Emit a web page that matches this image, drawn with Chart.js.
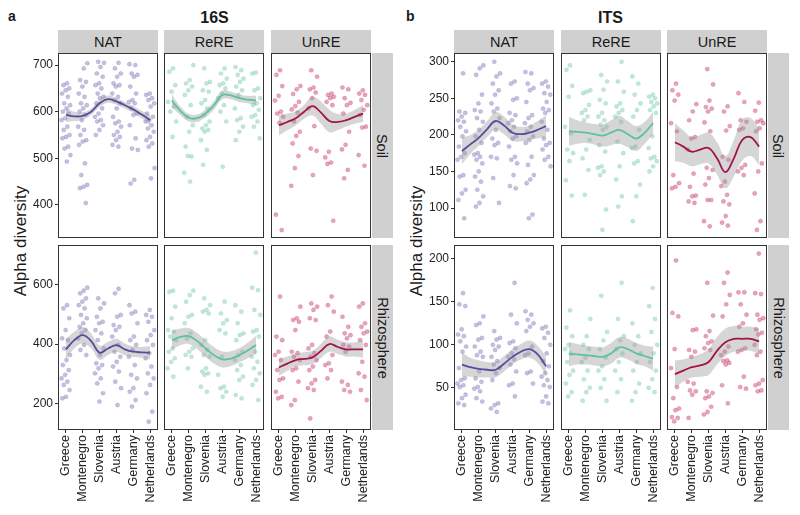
<!DOCTYPE html>
<html>
<head>
<meta charset="utf-8">
<script src="https://cdn.jsdelivr.net/npm/chart.js@4.4.0/dist/chart.umd.min.js"></script>
<style>
  body { margin: 0; background: #fff; width: 800px; height: 515px; position: relative; overflow: hidden;
         font-family: "Liberation Sans", Arial, sans-serif; color: #1a1a1a; }
  canvas { position: absolute; }
  .txt { position: absolute; white-space: nowrap; }
  .strip { position: absolute; background: #d0d0d0; display: flex; align-items: center; justify-content: center;
           font-size: 14.5px; color: #1a1a1a; }
  .vstrip span { transform: rotate(90deg); display: inline-block; }
  .ytitle { position: absolute; font-size: 17px; transform: translate(-50%, -50%) rotate(-90deg); white-space: nowrap; }
</style>
</head>
<body>
<script>
// categories
const countries = ['Greece', 'Montenegro', 'Slovenia', 'Austria', 'Germany', 'Netherlands'];
const fitX = [0, 0.5, 1, 1.5, 2, 2.5, 3, 3.5, 4, 4.5, 5];

// y ticks per row
const ticks16S_soil = [400, 500, 600, 700];
const ticks16S_rhizo = [200, 400, 600];
const ticksITS_soil = [100, 150, 200, 250, 300];
const ticksITS_rhizo = [50, 100, 150, 200];

// 16S, Soil
const pts16S_soil_NAT = [
  [661,657,650,646,639,632,618,614,607,600,596,586,582,568,561,550,546,543,525,521,507,493],
  [704,693,668,664,654,639,632,618,614,607,600,593,582,568,561,550,539,536,529,489,464,443,439,436,404],
  [707,705,696,682,675,661,657,650,639,632,629,618,607,596,589,582,579,571,561,550],
  [705,693,682,675,661,657,654,639,632,625,618,607,589,579,575,568,557,550,546,539,529,525],
  [702,700,682,679,675,654,639,625,621,618,607,596,593,571,543,521,518,454,446],
  [639,636,629,625,618,611,596,589,582,579,571,564,557,546,539,532,525,479,457]
];
const pts16S_soil_ReRE = [
  [693,686,657,643,621,611,600,579,546],
  [700,668,661,654,646,636,614,589,571,557,525,504,505,469,450],
  [693,664,661,646,643,625,618,607,593,579,571,564,561,557,539,518,486],
  [693,682,671,661,657,650,639,629,614,600,579,482],
  [696,689,679,671,664,654,646,636,607,586,582,568,557,539],
  [684,682,650,646,629,618,614,604,593,589,579,568,543]
];
const pts16S_soil_UnRE = [
  [689,679,655,634,624,600,596,589,576,379,346],
  [655,648,638,621,612,605,598,579,557,548,532,505,479,441],
  [689,675,652,648,641,629,607,569,521,516,464],
  [639,636,632,629,621,614,514,502,491,488,366],
  [652,648,629,619,614,596,557,529,519,475,457],
  [646,639,636,625,614,604,593,568,566,507,484]
];

// 16S, Rhizosphere
const pts16S_rhizo_NAT = [
  [531,520,487,447,419,413,385,363,346,329,312,296,284,273,262,245,222,217],
  [590,580,571,554,543,531,520,498,487,470,458,447,436,419,397,380,363],
  [554,537,520,492,475,470,447,436,413,385,363,335,329,318,301,284,267,234,206],
  [586,571,498,492,464,458,447,425,397,374,357,340,324,307,273,251,194],
  [531,509,503,470,425,413,397,380,357,329,296,284,251,239,211,189],
  [515,498,492,475,447,430,413,397,369,352,324,301,284,262,234,172,138]
];
const pts16S_rhizo_ReRE = [
  [580,576,526,487,447,442,425,413,385,374,352,340,318,290],
  [580,565,543,498,492,470,436,419,385,374,363,357,318],
  [554,531,515,509,503,413,397,380,363,357,318,307,301,296,256,239],
  [543,503,481,470,447,436,357,296,256,251,239,222],
  [531,509,470,436,430,413,374,363,346,329,312,290,279,228,217],
  [708,590,582,515,498,447,442,425,374,357,340,318,301,279,262,211]
];
const pts16S_rhizo_UnRE = [
  [560,425,413,374,363,346,312,284,279,239,222,217],
  [526,487,481,475,447,374,369,357,346,318,312,273,211,194],
  [537,526,515,487,481,397,385,369,357,346,324,312,279,267,251,245,149],
  [560,531,509,442,425,363,335,329,312,284],
  [492,458,436,430,419,397,391,374,273,262,245,239],
  [537,526,470,458,442,436,413,397,340,301,290,245,211]
];

// ITS, Soil
const ptsITS_soil_NAT = [
  [284,232,230,225,220,218,211,205,198,184,175,170,166,145,143,125,120,111,86],
  [295,291,282,255,243,234,232,223,218,207,198,189,175,173,170,166,161,150,143,136,125,116,107,102],
  [300,284,280,270,261,255,243,236,232,223,207,195,189,186,170,168,141,107],
  [273,270,250,248,230,227,220,216,211,205,198,195,184,170,166,161,145,130,127],
  [286,284,270,264,261,245,227,223,216,211,205,198,193,189,170,159,145,139,134,91,86],
  [273,270,266,257,255,245,236,234,230,218,207,195,189,186,180,170,166,157]
];
const ptsITS_soil_ReRE = [
  [295,289,267,252,211,202,180,175,164,138,117],
  [261,259,257,241,234,230,225,220,193,180,168,152,118],
  [282,273,262,248,243,230,225,220,214,211,207,186,177,157,155,150,145,98,70],
  [300,273,259,243,239,234,230,225,218,191,175,157,139,116,102],
  [280,270,255,243,234,225,207,184,182,164,161,132,116,82],
  [255,252,250,245,243,239,234,230,198,182,170,168,164,157,150]
];
const ptsITS_soil_UnRE = [
  [270,261,255,247,216,205,145,134,129,127],
  [242,232,220,197,195,180,147,129,117,116,109,107],
  [290,269,247,238,236,232,217,205,155,152,141,132,111,111,82,75],
  [239,232,212,206,170,166,136,130,118,109,105,89,80,76],
  [257,245,220,218,209,207,159,155,150,145],
  [244,233,220,218,216,209,205,161,150,120,82,70]
];

// ITS, Rhizosphere
const ptsITS_rhizo_NAT = [
  [160,147,145,118,112,110,104,98,92,73,61,59,55,53,51,42,38,32,30],
  [133,125,123,108,106,98,92,88,86,69,61,57,51,49,46,38,34],
  [116,108,106,100,98,94,86,81,77,73,67,59,32,30,26,22],
  [172,135,125,104,102,96,90,86,83,77,69,55,53,40],
  [139,135,129,125,121,116,98,90,88,69,67,55],
  [121,119,114,108,100,90,81,75,67,63,59,53,51,40,34,32]
];
const ptsITS_rhizo_ReRE = [
  [140,120,110,100,95,90,80,70,65,55,45,40],
  [130,110,100,95,85,80,70,60,50,45,35],
  [157,115,105,95,85,75,70,60,50,35],
  [172,130,110,105,95,90,80,70,60,45],
  [125,110,100,90,80,70,55,45,35],
  [166,145,130,115,100,90,80,70,60,50,45]
];
const ptsITS_rhizo_UnRE = [
  [198,137,133,95,73,51,38,26,24,16,15,11],
  [118,117,94,92,86,57,55,47,46,42,15],
  [172,134,116,110,104,102,96,94,46,44,40,38,28,22,19],
  [184,172,158,147,133,98,92,88,82,81,79,77,53,32],
  [161,161,147,135,125,121,96,94,92,63,51,49],
  [206,160,159,135,131,129,118,114,112,100,92,88,59,55,53,47,46]
];

// smooth fits (at fitX) and half-widths of the confidence band
const fit16S_soil_NAT = [593,590,591,600,618,627,622,614,605,594,582];
const band16S_soil_NAT = [15,10,8,7,8,8,7,7,7,8,11];
const fit16S_soil_ReRE = [624,602,587,586,596,614,636,635,629,626,624];
const band16S_soil_ReRE = [14,9,8,8,8,9,9,8,8,8,10];
const fit16S_soil_UnRE = [571,578,586,600,612,598,580,578,582,589,596];
const band16S_soil_UnRE = [22,18,15,15,20,24,24,17,14,15,18];
const fit16S_rhizo_NAT = [382,413,430,410,371,385,396,382,374,372,371];
const band16S_rhizo_NAT = [34,28,27,25,24,22,22,20,18,18,22];
const fit16S_rhizo_ReRE = [413,424,427,410,385,362,348,351,362,378,397];
const band16S_rhizo_ReRE = [32,28,27,27,28,28,27,25,24,26,30];
const fit16S_rhizo_UnRE = [321,334,346,350,355,377,400,390,382,382,382];
const band16S_rhizo_UnRE = [28,24,22,22,22,24,26,24,24,24,28];
const fitITS_soil_NAT = [178,187,196,208,219,213,203,201,203,207,212];
const bandITS_soil_NAT = [18,13,11,11,12,12,11,10,10,12,15];
const fitITS_soil_ReRE = [205,204,203,201,199,203,207,201,195,203,216];
const bandITS_soil_ReRE = [20,16,14,14,15,17,19,18,17,15,15];
const fitITS_soil_UnRE = [190,184,177,180,182,168,149,168,193,197,184];
const bandITS_soil_UnRE = [26,22,20,20,21,22,22,25,28,26,25];
const fitITS_rhizo_NAT = [77,74,72,71,71,78,86,92,95,89,75];
const bandITS_rhizo_NAT = [14,11,10,9,9,9,9,9,10,10,11];
const fitITS_rhizo_ReRE = [89,89,88,87,86,90,97,95,90,87,84];
const bandITS_rhizo_ReRE = [14,12,11,11,11,12,12,12,12,12,14];
const fitITS_rhizo_UnRE = [66,70,74,76,80,93,103,107,107,107,104];
const bandITS_rhizo_UnRE = [16,13,12,13,15,16,16,15,14,14,15];

// ---- layout / styling ----
const FONT = '"Liberation Sans", Arial, sans-serif';
const colors = {
  NAT:  { pt: 'rgba(106,90,170,0.38)', line: '#5a4a9e' },
  ReRE: { pt: 'rgba(102,194,160,0.40)', line: '#5cc39b' },
  UnRE: { pt: 'rgba(190,30,90,0.40)', line: '#a3124c' }
};
const panelW = 100, panelH = 185;
const rowsTop = [53, 245];
const halves = [
  { lefts: [58, 164, 271], title: '16S', tag: 'a', tagX: 8, strip: 372,
    yr: [[329, 726, ticks16S_soil], [110, 734, ticks16S_rhizo]],
    grid: [[[pts16S_soil_NAT, fit16S_soil_NAT, band16S_soil_NAT], [pts16S_soil_ReRE, fit16S_soil_ReRE, band16S_soil_ReRE], [pts16S_soil_UnRE, fit16S_soil_UnRE, band16S_soil_UnRE]],
           [[pts16S_rhizo_NAT, fit16S_rhizo_NAT, band16S_rhizo_NAT], [pts16S_rhizo_ReRE, fit16S_rhizo_ReRE, band16S_rhizo_ReRE], [pts16S_rhizo_UnRE, fit16S_rhizo_UnRE, band16S_rhizo_UnRE]]] },
  { lefts: [454, 561, 667], title: 'ITS', tag: 'b', tagX: 406, strip: 768,
    yr: [[59, 312, ticksITS_soil], [1, 216, ticksITS_rhizo]],
    grid: [[[ptsITS_soil_NAT, fitITS_soil_NAT, bandITS_soil_NAT], [ptsITS_soil_ReRE, fitITS_soil_ReRE, bandITS_soil_ReRE], [ptsITS_soil_UnRE, fitITS_soil_UnRE, bandITS_soil_UnRE]],
           [[ptsITS_rhizo_NAT, fitITS_rhizo_NAT, bandITS_rhizo_NAT], [ptsITS_rhizo_ReRE, fitITS_rhizo_ReRE, bandITS_rhizo_ReRE], [ptsITS_rhizo_UnRE, fitITS_rhizo_UnRE, bandITS_rhizo_UnRE]]] }
];
const groups = ['NAT', 'ReRE', 'UnRE'];
const rowNames = ['Soil', 'Rhizosphere'];

const boxPlugin = {
  id: 'box',
  afterDatasetsDraw(chart) {
    const a = chart.chartArea, ctx = chart.ctx;
    ctx.save();
    ctx.strokeStyle = '#333';
    ctx.lineWidth = 1;
    ctx.strokeRect(a.left + 0.5, a.top + 0.5, a.width - 1, a.height - 1);
    ctx.restore();
  }
};

function jittered(groupsVals) {
  const out = [];
  groupsVals.forEach((vals, g) => vals.forEach((v, i) => {
    const j = (((i + 1) * 0.618034 + g * 0.37) % 1 - 0.5) * 0.56;
    out.push({ x: g + j, y: v });
  }));
  return out;
}

function noPad(s) {
  s.paddingTop = 0; s.paddingBottom = 0; s.paddingLeft = 0; s.paddingRight = 0;
}

function addText(html, cls, style) {
  const d = document.createElement('div');
  d.className = cls;
  d.innerHTML = html;
  Object.assign(d.style, style);
  document.body.appendChild(d);
  return d;
}

halves.forEach(h => {
  addText(h.tag, 'txt', { left: h.tagX + 'px', top: '8px', fontWeight: 'bold', fontSize: '14px' });
  const mid = (h.lefts[0] + h.lefts[2] + panelW) / 2;
  addText(h.title, 'txt', { left: mid + 'px', top: '9px', fontWeight: 'bold', fontSize: '16px', transform: 'translateX(-50%)' });
  addText('Alpha diversity', 'ytitle', { left: (h.lefts[0] - 37) + 'px', top: '241px' });

  groups.forEach((g, c) => {
    addText(g, 'strip', { left: h.lefts[c] + 'px', top: '30px', width: panelW + 'px', height: '23px' });
  });
  rowNames.forEach((r, ri) => {
    addText('<span>' + r + '</span>', 'strip vstrip', { left: h.strip + 'px', top: rowsTop[ri] + 'px', width: '21px', height: panelH + 'px' });
  });

  for (let r = 0; r < 2; r++) {
    for (let c = 0; c < 3; c++) {
      const [pts, fit, band] = h.grid[r][c];
      const col = colors[groups[c]];
      const axW = c === 0 ? 40 : 0;
      const axH = r === 1 ? 82 : 0;
      const cv = document.createElement('canvas');
      cv.width = panelW + axW; cv.height = panelH + axH;
      cv.style.left = (h.lefts[c] - axW) + 'px';
      cv.style.top = rowsTop[r] + 'px';
      document.body.appendChild(cv);
      const [ymin, ymax, yt] = h.yr[r];

      new Chart(cv.getContext('2d'), {
        type: 'scatter',
        data: {
          datasets: [
            { type: 'line', data: fitX.map((x, i) => ({ x, y: fit[i] })), borderColor: col.line, borderWidth: 1.8,
              pointRadius: 0, tension: 0.4, fill: false, order: 0 },
            { type: 'line', data: fitX.map((x, i) => ({ x, y: fit[i] + band[i] })), borderWidth: 0, borderColor: 'rgba(0,0,0,0)',
              pointRadius: 0, tension: 0.4, fill: false, order: 1 },
            { type: 'line', data: fitX.map((x, i) => ({ x, y: fit[i] - band[i] })), borderWidth: 0, borderColor: 'rgba(0,0,0,0)',
              pointRadius: 0, tension: 0.4, fill: '-1', backgroundColor: 'rgba(153,153,153,0.4)', order: 2 },
            { data: jittered(pts), pointRadius: 2.1, backgroundColor: col.pt, borderColor: col.pt, borderWidth: 0.5, order: 3 }
          ]
        },
        options: {
          responsive: false, animation: false, devicePixelRatio: 1,
          layout: { padding: 0, autoPadding: false },
          plugins: { legend: { display: false }, tooltip: { enabled: false } },
          scales: {
            x: {
              type: 'linear', min: -0.47, max: 5.47, display: r === 1,
              afterBuildTicks: s => { s.ticks = countries.map((_, i) => ({ value: i })); },
              afterFit: s => { s.height = axH; noPad(s); },
              grid: { drawOnChartArea: false, tickLength: 3, tickColor: '#333' },
              border: { display: false },
              ticks: { autoSkip: false, minRotation: 90, maxRotation: 90, padding: 2, color: '#222',
                       font: { size: 12.5, family: FONT }, callback: v => countries[v] }
            },
            y: {
              min: ymin, max: ymax, display: c === 0,
              afterBuildTicks: s => { s.ticks = yt.map(v => ({ value: v })); },
              afterFit: s => { s.width = axW; noPad(s); },
              grid: { drawOnChartArea: false, tickLength: 3, tickColor: '#333' },
              border: { display: false },
              ticks: { padding: 2, color: '#222', font: { size: 12, family: FONT } }
            }
          }
        },
        plugins: [boxPlugin]
      });
    }
  }
});
</script>
</body>
</html>
